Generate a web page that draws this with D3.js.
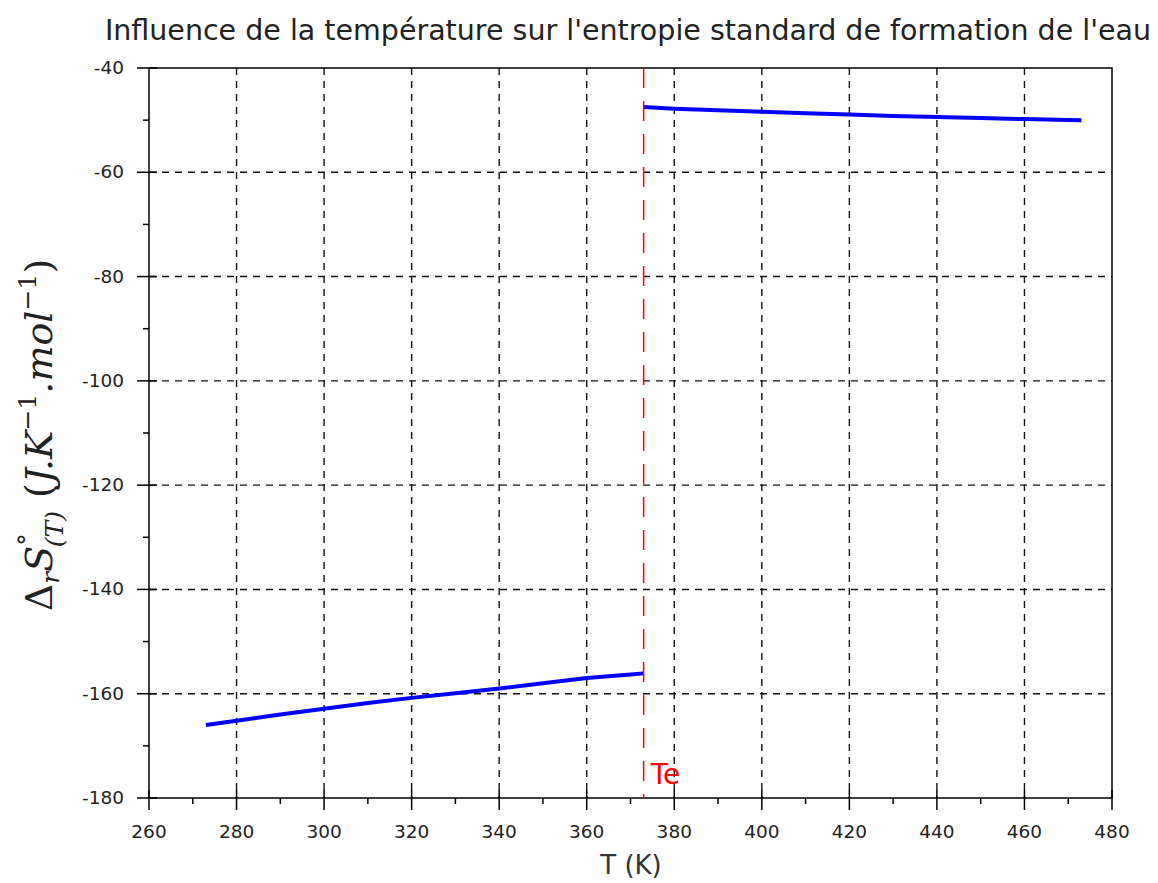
<!DOCTYPE html>
<html>
<head>
<meta charset="utf-8">
<script src="https://cdn.jsdelivr.net/npm/d3@7"></script>
<style>
  body { margin: 0; background: #fff; }
  text { font-family: "DejaVu Sans", sans-serif; }
</style>
</head>
<body>
<script>
// values
const tempLiquid = [273, 280, 290, 300, 310, 320, 330, 340, 350, 360, 370, 373];
const entLiquid = [-166.0, -165.2, -164.0, -162.9, -161.8, -160.8, -159.9, -159.0, -158.0, -157.0, -156.3, -156.1];
const tempGas = [373, 380, 390, 400, 410, 420, 430, 440, 450, 460, 470, 473];
const entGas = [-47.5, -47.8, -48.1, -48.4, -48.7, -48.9, -49.2, -49.4, -49.6, -49.8, -49.95, -50.0];
const tEbullition = 373;
const xTicks = [260, 280, 300, 320, 340, 360, 380, 400, 420, 440, 460, 480];
const yTicks = [-40, -60, -80, -100, -120, -140, -160, -180];
const xMinor = [270, 290, 310, 330, 350, 370, 390, 410, 430, 450, 470];
const yMinor = [-50, -70, -90, -110, -130, -150, -170];

let margin = {top: 68, right: 46, bottom: 85, left: 149},
  width = 1158 - margin.left - margin.right,
  height = 883 - margin.top - margin.bottom;

const svg = d3.select("body")
  .append("svg")
  .attr("width", 1158)
  .attr("height", 883);

const g = svg.append("g")
  .attr("transform", "translate(" + margin.left + "," + margin.top + ")");

let x = d3.scaleLinear().domain([260, 480]).range([0, width]);
let y = d3.scaleLinear().domain([-180, -40]).range([height, 0]);

// grid
g.selectAll("line.gx").data(xTicks.slice(1, -1)).enter().append("line")
  .attr("x1", d => x(d)).attr("x2", d => x(d))
  .attr("y1", 0).attr("y2", height)
  .attr("stroke", "#111").attr("stroke-width", 1.4)
  .attr("stroke-dasharray", "7,6");
g.selectAll("line.gy").data(yTicks.slice(1, -1)).enter().append("line")
  .attr("y1", d => y(d)).attr("y2", d => y(d))
  .attr("x1", 0).attr("x2", width)
  .attr("stroke", "#111").attr("stroke-width", 1.4)
  .attr("stroke-dasharray", "7,6");

// box
g.append("rect")
  .attr("width", width).attr("height", height)
  .attr("fill", "none").attr("stroke", "#000").attr("stroke-width", 1.5);

// bottom axis
const xAxis = g.append("g").attr("transform", "translate(0," + height + ")");
xAxis.selectAll("line.maj").data(xTicks).enter().append("line")
  .attr("x1", d => x(d)).attr("x2", d => x(d))
  .attr("y1", -8).attr("y2", 12)
  .attr("stroke", "#000").attr("stroke-width", 1.5);
xAxis.selectAll("line.min").data(xMinor).enter().append("line")
  .attr("x1", d => x(d)).attr("x2", d => x(d))
  .attr("y1", 0).attr("y2", 6)
  .attr("stroke", "#000").attr("stroke-width", 1.5);
xAxis.selectAll("text").data(xTicks).enter().append("text")
  .attr("x", d => x(d)).attr("y", 40)
  .attr("text-anchor", "middle")
  .style("font-size", "18.5px")
  .style("fill", "#222")
  .text(d => d);

// left axis
const yAxis = g.append("g");
yAxis.selectAll("line.maj").data(yTicks).enter().append("line")
  .attr("y1", d => y(d)).attr("y2", d => y(d))
  .attr("x1", -12).attr("x2", 8)
  .attr("stroke", "#000").attr("stroke-width", 1.5);
yAxis.selectAll("line.min").data(yMinor).enter().append("line")
  .attr("y1", d => y(d)).attr("y2", d => y(d))
  .attr("x1", -6).attr("x2", 0)
  .attr("stroke", "#000").attr("stroke-width", 1.5);
yAxis.selectAll("text").data(yTicks).enter().append("text")
  .attr("x", -25).attr("y", d => y(d) + 6)
  .attr("text-anchor", "end")
  .style("font-size", "18.5px")
  .style("fill", "#222")
  .text(d => d);

// curves
const line = d3.line().x(d => x(d[0])).y(d => y(d[1]));
g.append("path")
  .datum(tempLiquid.map((t, i) => [t, entLiquid[i]]))
  .attr("fill", "none").attr("stroke", "#0000ff").attr("stroke-width", 4)
  .attr("d", line);
g.append("path")
  .datum(tempGas.map((t, i) => [t, entGas[i]]))
  .attr("fill", "none").attr("stroke", "#0000ff").attr("stroke-width", 4)
  .attr("d", line);

// Te line
g.append("line")
  .attr("x1", x(tEbullition)).attr("x2", x(tEbullition))
  .attr("y1", 0).attr("y2", height)
  .attr("stroke", "#ff0000").attr("stroke-width", 1.5)
  .attr("stroke-dasharray", "20,13");
g.append("text")
  .attr("x", x(tEbullition) + 7).attr("y", height - 14)
  .attr("fill", "#ff0000")
  .style("font-size", "28px")
  .text("Te");

// title
svg.append("text")
  .attr("x", 628).attr("y", 40)
  .attr("text-anchor", "middle")
  .style("font-size", "28.5px")
  .style("fill", "#222")
  .text("Influence de la température sur l'entropie standard de formation de l'eau");

// x label
svg.append("text")
  .attr("x", 631).attr("y", 874)
  .attr("text-anchor", "middle")
  .style("font-size", "26px")
  .style("fill", "#333")
  .text("T (K)");

// y label (latex-like)
const yl = svg.append("text")
  .attr("transform", "translate(52,435) rotate(-90)")
  .attr("text-anchor", "middle")
  .style("font-family", "'DejaVu Serif', serif")
  .style("font-size", "38px")
  .style("fill", "#222");
yl.append("tspan").text("Δ");
yl.append("tspan").attr("dy", 7).style("font-size", "25px").style("font-style", "italic").text("r");
yl.append("tspan").attr("dy", -7).style("font-style", "italic").text("S");
yl.append("tspan").attr("dy", -16).style("font-size", "25px").text("°");
yl.append("tspan").attr("dx", -14).attr("dy", 27).style("font-size", "25px").style("font-style", "italic").text("(T)");
yl.append("tspan").attr("dx", 13).attr("dy", -11).text("(");
yl.append("tspan").style("font-style", "italic").text("J.K");
yl.append("tspan").attr("dy", -16).style("font-size", "25px").text("−1");
yl.append("tspan").attr("dy", 16).style("font-style", "italic").text(".mol");
yl.append("tspan").attr("dy", -16).style("font-size", "25px").text("−1");
yl.append("tspan").attr("dy", 16).text(")");
</script>
</body>
</html>
